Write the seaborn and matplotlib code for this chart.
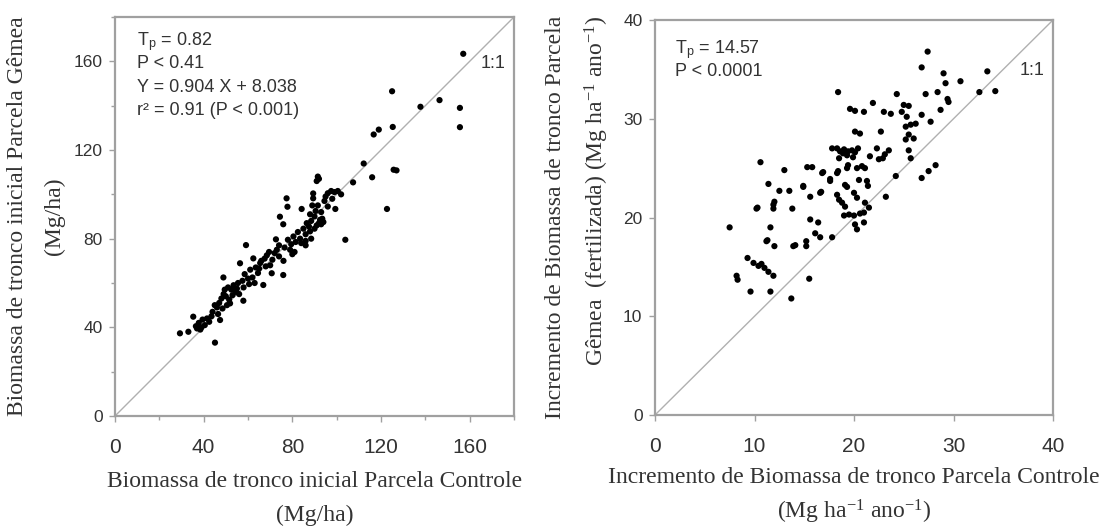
import matplotlib
matplotlib.use("Agg")
import matplotlib.pyplot as plt
import seaborn as sns
import pandas as pd
import numpy as np

# ---------------- data ----------------
left_ctrl = [29.3, 33.1, 35.3, 36.5, 37.8, 38.5, 39.5, 40.5, 41.5, 42.5, 43.5, 37.0, 39.0, 45.1, 47.4,
             46.0, 47.0, 48.0, 49.0, 50.0, 49.5, 51.0, 52.5, 53.5, 51.5, 48.9, 51.9, 54.5, 55.5, 57.9,
             56.4, 59.1, 57.5, 58.5, 60.0, 61.0, 62.4, 63.5, 64.5, 65.5, 66.9, 67.5, 68.5, 69.5, 70.7,
             71.0, 72.0, 73.0, 72.6, 74.0, 75.9, 74.4, 75.9, 77.4, 77.8, 76.5, 78.0, 79.5, 80.5, 81.5,
             82.5, 83.5, 84.2, 85.0, 86.0, 86.5, 87.5, 88.0, 88.5, 89.4, 89.4, 90.0, 90.5, 91.0, 91.5,
             92.0, 91.5, 92.0, 92.5, 93.0, 93.5, 94.0, 94.5, 95.0, 96.0, 97.5, 99.0, 100.5, 102.0, 99.4,
             103.9, 107.4, 112.2, 116.0, 116.7, 119.0, 122.7, 125.0, 125.3, 125.7, 127.0, 137.8, 146.4,
             155.6, 155.6, 157.1,
             44.0, 45.0, 46.5, 48.5, 50.5, 53.0, 55.0, 56.0, 58.0, 60.5, 62.0, 63.0, 65.0, 66.0, 68.0,
             70.0, 74.0, 76.0, 79.0, 81.0, 84.0, 86.0, 88.5, 90.0, 91.0, 88.0, 89.0, 93.0, 96.0, 98.0,
             86.0, 80.0]
left_twin = [37.3, 38.0, 44.8, 40.5, 42.0, 39.0, 43.5, 41.0, 44.0, 42.5, 45.0, 39.5, 40.0, 33.1, 43.3,
             49.0, 51.0, 53.0, 55.0, 54.0, 57.0, 58.0, 57.0, 59.0, 52.5, 62.5, 50.8, 56.0, 60.0, 52.0,
             68.9, 77.1, 61.0, 64.0, 62.0, 66.0, 71.1, 67.0, 64.5, 69.0, 59.1, 71.0, 72.5, 74.0, 64.4,
             70.5, 73.5, 75.0, 79.7, 77.0, 63.6, 89.9, 86.5, 98.2, 94.4, 76.0, 79.5, 77.5, 81.0, 78.5,
             83.0, 80.0, 93.4, 84.5, 82.0, 87.0, 85.5, 83.3, 88.0, 100.4, 98.2, 90.0, 92.5, 106.0, 108.0,
             107.0, 95.0, 87.0, 88.5, 86.5, 89.0, 87.5, 97.0, 99.0, 100.5, 101.5, 101.0, 101.5, 100.0, 93.4,
             79.5, 105.4, 113.9, 107.7, 127.0, 129.2, 93.4, 146.5, 130.4, 111.1, 110.8, 139.5, 142.5,
             139.0, 130.3, 163.4,
             47.0, 50.0, 46.0, 48.5, 50.0, 54.5, 57.5, 55.0, 58.0, 59.5, 62.5, 60.0, 66.5, 70.0, 67.5,
             68.0, 72.0, 70.0, 75.0, 74.0, 78.0, 79.0, 80.0, 84.5, 86.0, 91.0, 95.0, 92.0, 94.5, 98.0,
             77.0, 73.0]

right_ctrl = [7.5, 8.2, 8.3, 9.6, 9.3, 9.9, 10.4, 10.7, 11.0, 11.4, 11.9, 10.6, 10.2, 11.4, 11.6, 11.9,
              11.9, 11.2, 12.0, 11.6, 12.5, 13.0, 13.5, 13.8, 13.9, 13.7, 14.9, 15.3, 15.8, 15.6, 16.6,
              15.6, 16.4, 15.2, 15.2, 16.1, 16.6, 17.8, 15.5, 16.8, 17.6, 18.4, 18.3, 17.8, 18.3, 18.6,
              19.0, 18.5, 19.3, 19.3, 19.1, 19.3, 18.3, 18.5, 18.8, 19.1, 19.8, 20.1, 19.9, 19.6, 20.1,
              21.0, 20.1, 20.6, 20.3, 20.8, 21.1, 20.5, 20.0, 20.3, 19.0, 19.5, 20.0, 20.6, 21.0, 20.1,
              20.3, 21.0, 21.3, 21.4, 21.5, 21.1, 21.6, 22.5, 22.3, 21.9, 22.7, 23.0, 23.7, 23.1, 23.5,
              22.9, 23.2, 24.2, 24.3, 25.0, 25.5, 24.8, 25.3, 25.2, 25.7, 26.2, 25.5, 26.0, 25.2, 25.5,
              25.7, 26.8, 27.4, 27.2, 26.8, 27.7, 26.8, 27.5, 28.2, 28.4, 28.7, 29.0, 29.2, 29.4, 29.5,
              30.7, 32.6, 33.4, 34.2,
              16.9, 17.6, 18.4, 19.4, 14.9, 16.7, 14.1, 11.3, 12.0, 10.3, 18.9, 19.4, 20.4]
right_twin = [19.0, 14.1, 13.7, 12.5, 15.9, 15.4, 15.1, 15.3, 14.9, 14.5, 14.1, 25.6, 20.9, 23.4, 19.0, 21.3,
              20.9, 17.6, 17.1, 12.5, 22.7, 24.8, 22.7, 20.9, 17.1, 11.8, 23.1, 25.1, 25.1, 22.1, 22.5,
              19.8, 19.5, 17.6, 17.1, 18.4, 18.0, 18.0, 13.8, 24.5, 23.7, 32.7, 24.5, 27.0, 27.0, 26.7,
              26.9, 26.0, 26.3, 25.0, 23.3, 23.1, 22.3, 21.8, 21.5, 21.1, 26.8, 26.6, 26.1, 31.0, 30.8,
              30.7, 28.7, 28.5, 25.0, 25.2, 25.0, 23.8, 22.5, 22.0, 20.2, 20.3, 20.2, 20.4, 20.5, 19.3,
              18.8, 19.5, 23.7, 23.2, 21.0, 21.5, 26.2, 25.9, 27.0, 31.6, 28.7, 30.7, 30.5, 26.4, 26.8,
              26.0, 22.1, 24.2, 32.5, 31.4, 31.3, 30.7, 30.2, 29.2, 29.4, 29.5, 28.4, 28.0, 27.9, 26.8,
              26.0, 35.2, 36.8, 32.5, 30.4, 29.7, 24.0, 24.7, 25.3, 32.7, 30.9, 34.6, 33.6, 32.0, 31.7,
              33.8, 32.7, 34.8, 32.8,
              24.6, 23.9, 24.7, 25.3, 23.2, 22.6, 17.2, 17.7, 21.6, 21.0, 26.5, 26.7, 27.0]

left_ticks = [0, 40, 80, 120, 160]
right_ticks = [0, 10, 20, 30, 40]

left_notes = ["T$_{\\mathsf{p}}$ = 0.82", "P < 0.41", "Y = 0.904 X + 8.038", "r² = 0.91 (P < 0.001)"]
right_notes = ["T$_{\\mathsf{p}}$ = 14.57", "P < 0.0001"]

left_xlabel = "Biomassa de tronco inicial Parcela Controle\n(Mg/ha)"
left_ylabel = "Biomassa de tronco inicial Parcela Gêmea\n(Mg/ha)"
right_xlabel = "Incremento de Biomassa de tronco Parcela Controle\n(Mg ha$^{\\mathrm{-1}}$ ano$^{\\mathrm{-1}}$)"
right_ylabel = "Incremento de Biomassa de tronco Parcela\nGêmea  (fertilizada) (Mg ha$^{\\mathrm{-1}}$ ano$^{\\mathrm{-1}}$)"

# ---------------- style ----------------
sns.set_theme(style="ticks")
plt.rcParams["font.family"] = ["Liberation Sans", "DejaVu Sans"]
plt.rcParams["mathtext.fontset"] = "custom"
plt.rcParams["mathtext.rm"] = "Liberation Serif"
plt.rcParams["mathtext.it"] = "Liberation Serif:italic"
plt.rcParams["mathtext.sf"] = "Liberation Sans"

spine_c = "#a0a0a0"
txt_c = "#333333"

fig = plt.figure(figsize=(11.19, 5.26), dpi=100)
axL = fig.add_axes([115/1119, 1-416/526, 399/1119, 399/526])
axR = fig.add_axes([655/1119, 1-415/526, 398/1119, 395/526])

dfL = pd.DataFrame({"ctrl": left_ctrl, "twin": left_twin})
dfR = pd.DataFrame({"ctrl": right_ctrl, "twin": right_twin})

sns.scatterplot(data=dfL, x="ctrl", y="twin", ax=axL, color="black", s=20, edgecolor="none", zorder=3)
sns.scatterplot(data=dfR, x="ctrl", y="twin", ax=axR, color="black", s=20, edgecolor="none", zorder=3)

def style_axis(ax, lim, major, minor_step):
    ax.set_xlim(0, lim)
    ax.set_ylim(0, lim)
    ax.plot([0, lim], [0, lim], color="#b0b0b0", lw=1.0, zorder=2)
    ax.set_xticks(major)
    ax.set_yticks(major)
    ax.set_xticks(np.arange(0, lim + 0.1, minor_step), minor=True)
    ax.set_yticks(np.arange(0, lim + 0.1, minor_step), minor=True)
    for s in ax.spines.values():
        s.set_visible(True)
        s.set_color(spine_c)
        s.set_linewidth(1.6)
    ax.tick_params(which="both", direction="out", color=spine_c, width=1.0)
    ax.tick_params(which="major", length=4, labelcolor=txt_c)
    ax.tick_params(which="minor", length=3)
    ax.tick_params(axis="x", which="major", labelsize=15, pad=12)
    ax.tick_params(axis="y", which="major", labelsize=12.5, pad=5)

style_axis(axL, 180, left_ticks, 20)
style_axis(axR, 40, right_ticks, 10)

lab_kw = dict(family="Liberation Serif", fontsize=17, color=txt_c)
axL.set_xlabel(left_xlabel, labelpad=10, linespacing=1.8, **lab_kw)
axR.set_xlabel(right_xlabel, labelpad=8, linespacing=1.45, **lab_kw)
axL.set_ylabel(left_ylabel, labelpad=6, linespacing=2.0, **lab_kw)
axR.set_ylabel(right_ylabel, labelpad=9, linespacing=1.8, multialignment="right", **lab_kw)

ly = [168.7, 159.2, 148.0, 138.0]
for t, y in zip(left_notes, ly):
    axL.text(10.0, y, t, fontsize=13, color=txt_c, va="center", ha="left")
axL.text(165.0, 159.2, "1:1", fontsize=13, color=txt_c, va="center", ha="left")

ry = [37.0, 34.8]
for t, y in zip(right_notes, ry):
    axR.text(2.0, y, t, fontsize=13, color=txt_c, va="center", ha="left")
axR.text(36.6, 34.9, "1:1", fontsize=13, color=txt_c, va="center", ha="left")

fig.savefig("out.png", dpi=100, facecolor="white")
